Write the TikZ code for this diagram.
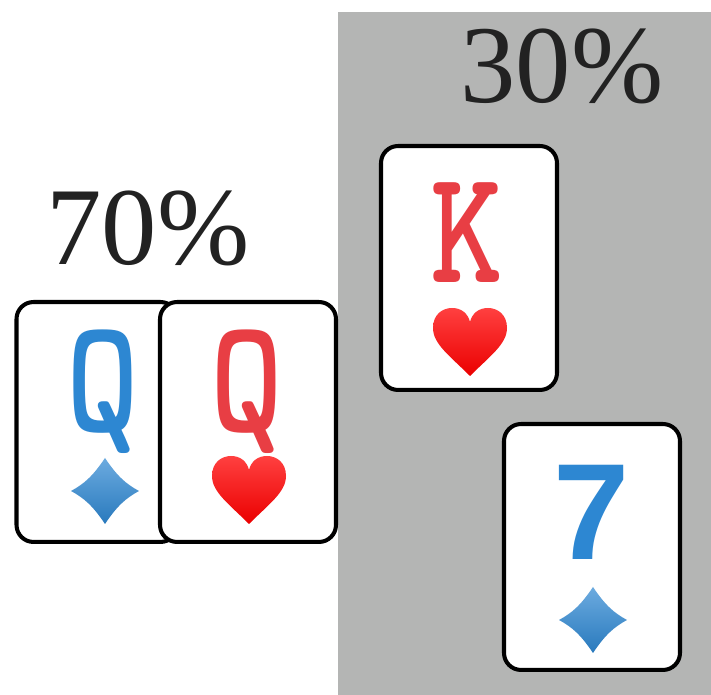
\documentclass[tikz,border=0pt]{standalone}
\usepackage{fontspec}
\setmainfont{Liberation Serif}
\newfontfamily\numfont{Liberation Sans}
\usepackage{tikz}
\usetikzlibrary{calc}

\definecolor{bggray}{RGB}{180,181,180}
\definecolor{cardblue}{RGB}{45,135,210}
\definecolor{cardred}{RGB}{232,62,68}
\definecolor{pcttext}{RGB}{34,34,34}

\begin{document}
\begin{tikzpicture}[
  x=0.02cm, y=-0.02cm,
  card/.style={draw, line width=2.3pt, rounded corners=0.34cm, fill=white,
    minimum width=3.52cm, minimum height=4.88cm, inner sep=0pt},
  rank/.style={anchor=base, inner sep=0pt, text=#1, font=\ttfamily\bfseries\fontsize{93}{93}\selectfont},
  digit/.style={anchor=base, inner sep=0pt, text=#1, font=\numfont\bfseries\fontsize{78}{78}\selectfont},
  pct/.style={anchor=base, inner sep=0pt, text=pcttext, font=\fontsize{63}{63}\selectfont},
  heartpip/.pic={
    \path[top color=red!75!white, bottom color=red!92!black, draw=none]
      (0,34) .. controls (-20,14) and (-37,2) .. (-37,-14)
      .. controls (-37,-28) and (-27,-34) .. (-18,-34)
      .. controls (-8,-34) and (-2,-28) .. (0,-20)
      .. controls (2,-28) and (8,-34) .. (18,-34)
      .. controls (27,-34) and (37,-28) .. (37,-14)
      .. controls (37,2) and (20,14) .. (0,34) -- cycle;
  },
  diamondpip/.pic={
    \path[top color=cardblue!70!white, bottom color=cardblue!90!black, draw=none]
      (0,-33) .. controls (-12,-15) and (-21,-7) .. (-34,0)
      .. controls (-21,7) and (-12,15) .. (0,33)
      .. controls (12,15) and (21,7) .. (34,0)
      .. controls (21,-7) and (12,-15) .. (0,-33) -- cycle;
  },
]
\useasboundingbox (0,0) rectangle (711,695);

% shaded half
\fill[bggray] (338,12) rectangle (711,695);

% percentages
\node[pct] (p70) at (148,265) {70\%};
\node[pct] (p30) at (562,103) {30\%};

% left pair
\node[card, minimum width=3.22cm, minimum height=4.8cm] (qd) at (97,422) {};
\node[card, minimum height=4.8cm] (qh) at (248,422) {};

\node[rank=cardblue] (qd_r) at ($(qd.center)+(6,10)$) {\scalebox{0.85}[1]{Q}};
\pic at ($(qd.center)+(8,69)$) {diamondpip};
\node[rank=cardred] (qh_r) at ($(qh.center)+(-1,10)$) {\scalebox{0.85}[1]{Q}};
\pic at ($(qh.center)+(1,68)$) {heartpip};

% right cards
\node[card] (kh) at (469,268) {};
\node[rank=cardred] (kh_r) at ($(kh.center)+(-2,15)$) {\scalebox{0.85}[1]{K}};
\pic at ($(kh.center)+(1,74)$) {heartpip};

\node[card, minimum height=4.92cm] (sd) at (592,547) {};
\node[digit=cardblue] (sd_r) at ($(sd.center)+(0,13)$) {7};
\pic at ($(sd.center)+(1,73)$) {diamondpip};

\end{tikzpicture}
\end{document}
